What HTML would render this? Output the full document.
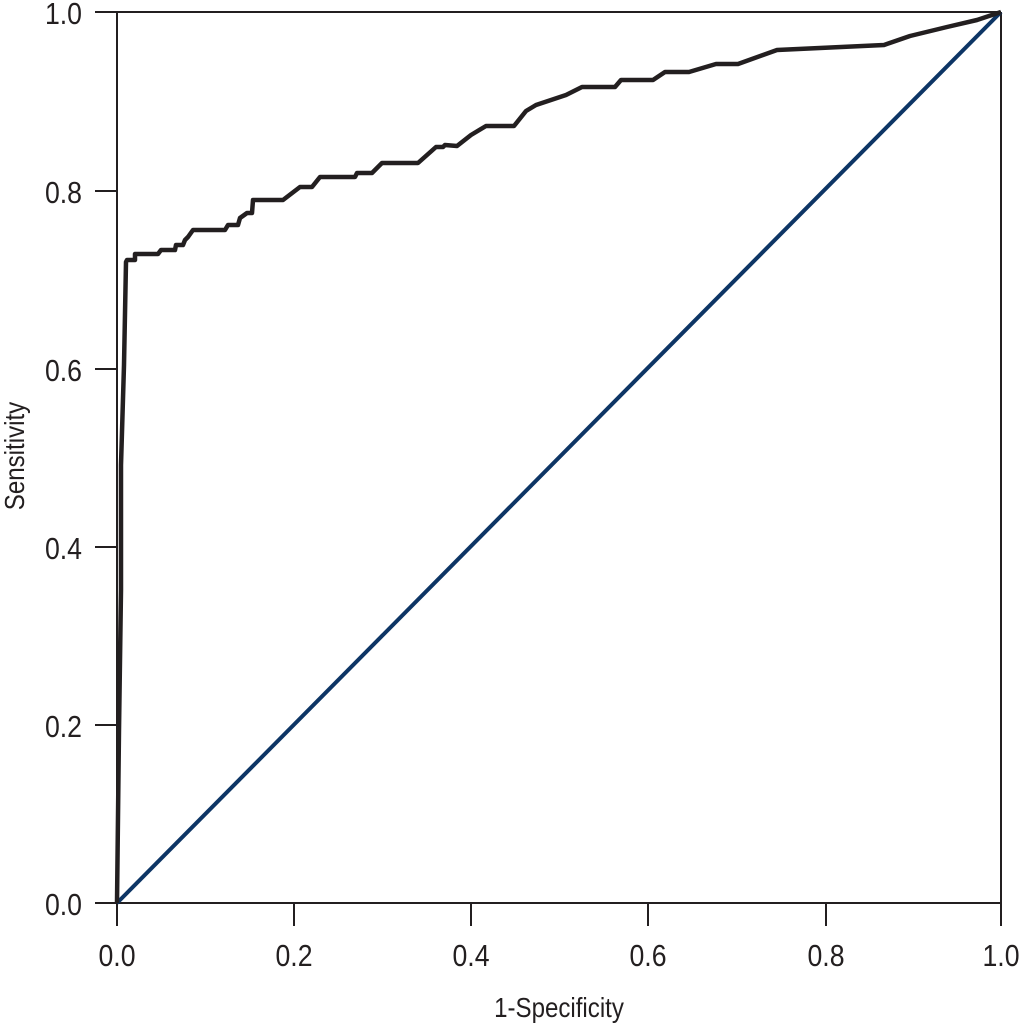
<!DOCTYPE html>
<html><head><style>
body{margin:0;background:#fff;}
svg text{font-family:"Liberation Sans",sans-serif;fill:#231f20;}
</style></head><body>
<svg width="1021" height="1024" viewBox="0 0 1021 1024">
<g stroke="#231f20" stroke-width="2" fill="none">
<line x1="117" y1="12" x2="1001" y2="12"/>
<line x1="1001" y1="12" x2="1001" y2="903"/>
<line x1="95" y1="903" x2="1001" y2="903"/>
<line x1="117" y1="12" x2="117" y2="926"/>
<line x1="95" y1="12" x2="117" y2="12"/>
<line x1="95" y1="191" x2="117" y2="191"/>
<line x1="95" y1="369" x2="117" y2="369"/>
<line x1="95" y1="547" x2="117" y2="547"/>
<line x1="95" y1="725" x2="117" y2="725"/>
<line x1="294" y1="903" x2="294" y2="926"/>
<line x1="471" y1="903" x2="471" y2="926"/>
<line x1="648" y1="903" x2="648" y2="926"/>
<line x1="826" y1="903" x2="826" y2="926"/>
<line x1="1001" y1="903" x2="1001" y2="926"/>
</g>
<line x1="117" y1="903" x2="1001" y2="12" stroke="#0d3565" stroke-width="4"/>
<polyline fill="none" stroke="#231f20" stroke-width="4.5" stroke-linejoin="round" points="117,903 119,730 121,590 121,465 124,365 126,262 127,260 135,260 135,254 158,254 161,250 175,250 176,245 183,245 185,240 188,237 193,230 225,230 228,225 238,225 240,218 247,213 252,213 253,200 283,200 300,187 312,187 320,177 355,177 357,173 372,173 382,163 418,163 436,147 443,147 445,145 457,146 471,135 486,126 514,126 526,111 536,105 566,95 582,87 615,87 621,80 653,80 665,72 689,72 716,64 738,64 777,50 884,45 910,36 947,27 977,20 1001,12"/>
<g font-size="31" text-anchor="end">
<text transform="translate(82,915) scale(0.86,1)">0.0</text>
<text transform="translate(82,737) scale(0.86,1)">0.2</text>
<text transform="translate(82,559) scale(0.86,1)">0.4</text>
<text transform="translate(82,381) scale(0.86,1)">0.6</text>
<text transform="translate(82,203) scale(0.86,1)">0.8</text>
<text transform="translate(82,24) scale(0.86,1)">1.0</text>
</g>
<g font-size="31" text-anchor="middle">
<text transform="translate(117,966) scale(0.86,1)">0.0</text>
<text transform="translate(294,966) scale(0.86,1)">0.2</text>
<text transform="translate(471,966) scale(0.86,1)">0.4</text>
<text transform="translate(648,966) scale(0.86,1)">0.6</text>
<text transform="translate(826,966) scale(0.86,1)">0.8</text>
<text transform="translate(1001,966) scale(0.86,1)">1.0</text>
</g>
<text font-size="28" text-anchor="middle" transform="translate(559,1017) scale(0.86,1)">1-Specificity</text>
<text font-size="28" text-anchor="middle" transform="translate(24,456) rotate(-90) scale(0.86,1)">Sensitivity</text>
</svg>
</body></html>
